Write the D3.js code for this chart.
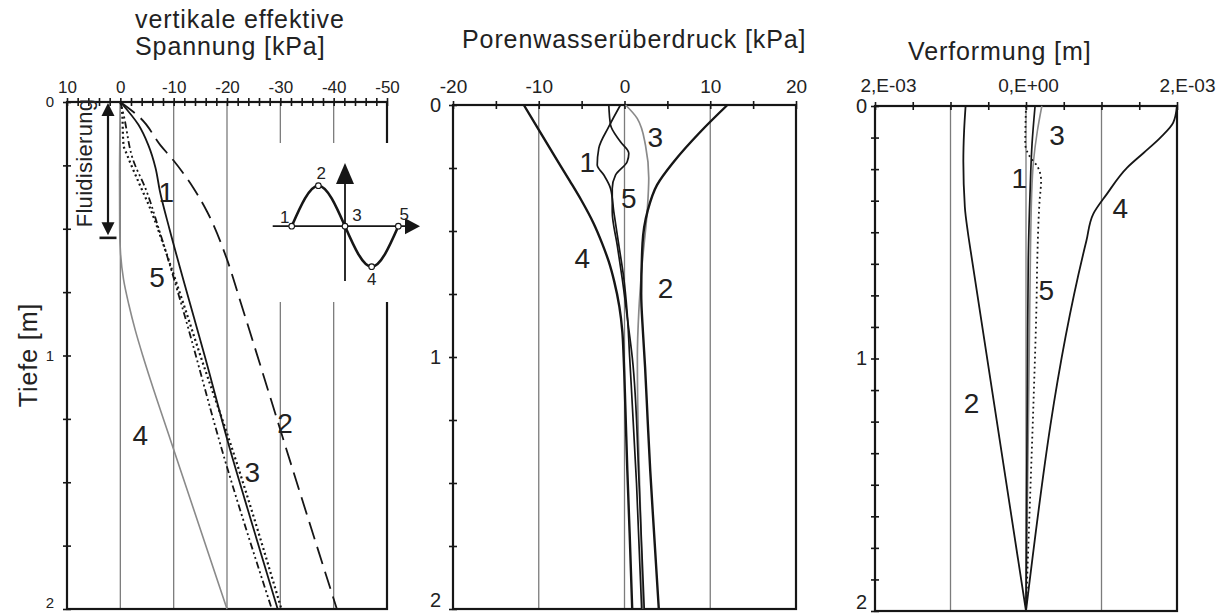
<!DOCTYPE html>
<html>
<head>
<meta charset="utf-8">
<script src="https://cdn.jsdelivr.net/npm/d3@7"></script>
<style>
  body { margin: 0; background: #fff; }
  svg { display: block; }
  text { font-family: "Liberation Sans", Arial, sans-serif; fill: #222; }
</style>
</head>
<body>
<svg id="chart" width="1229" height="613"></svg>
<script>
// ---------- data: [depth (m), value] ----------
// vertical effective stress [kPa]
const stress1 = [[0,0],[0.09,-3.4],[0.17,-5.25],[0.26,-6.6],[0.35,-7.4],[0.5,-9.2],[0.7,-11.8],[1.0,-15.8],[1.373,-20.6],[1.65,-24.5],[2,-29.5]];
const stress2 = [[0,0],[0.063,-3.75],[0.17,-7.5],[0.229,-9.9],[0.339,-13.7],[0.434,-16.3],[0.615,-19.9],[0.773,-22.3],[1.069,-26.7],[1.3,-30.1],[1.542,-33.7],[2,-40.6]];
const stress3 = [[0,0],[0.03,-0.3],[0.17,-0.6],[0.21,-1.3],[0.315,-3.4],[0.42,-5.6],[0.552,-7.9],[0.7,-10.3],[0.8,-11.9],[1.0,-15.0],[1.345,-20.6],[2,-30.2]];
const stress4 = [[0,0],[0.3,0.15],[0.5,0.12],[0.6,-0.05],[0.7,-0.6],[0.8,-1.6],[0.9,-2.8],[1.0,-4.2],[1.1,-5.7],[1.333,-9.4],[2,-20]];
const stress5 = [[0,0],[0.05,-0.6],[0.235,-2.5],[0.34,-4.7],[0.5,-7.2],[0.78,-11.2],[1.44,-20.0],[2,-28.4]];

// excess pore water pressure [kPa]
const pore1 = [[0,-0.47],[0.086,-1.83],[0.172,-3.0],[0.238,-3.18],[0.278,-2.41],[0.331,-1.63],[0.423,-1.25],[0.556,-0.66],[0.688,-0.08],[0.82,0.3],[1.0,0.6],[1.5,1.4],[2,2.0]];
const pore2 = [[0,12.0],[0.106,8.86],[0.225,5.75],[0.317,3.8],[0.42,2.7],[0.55,2.1],[0.75,1.95],[0.9,2.15],[1.04,2.4],[1.25,2.7],[1.45,3.0],[1.7,3.45],[2,4.0]];
const pore3 = [[0,0.12],[0.053,1.48],[0.16,2.45],[0.29,2.83],[0.42,2.65],[0.63,2.06],[0.82,1.67],[1.0,1.5],[1.3,1.6],[1.6,1.85],[2,2.15]];
const pore4 = [[0,-11.74],[0.11,-9.8],[0.2,-8.2],[0.3,-6.4],[0.38,-5.0],[0.47,-3.6],[0.55,-2.6],[0.62,-1.85],[0.7,-1.2],[0.8,-0.6],[0.9,-0.25],[1.0,-0.1],[1.2,0.1],[1.45,0.33],[1.7,0.6],[2,0.9]];
const pore5 = [[0,-1.83],[0.079,-1.63],[0.146,-0.47],[0.192,0.5],[0.225,0.31],[0.278,-1.05],[0.331,-1.43],[0.423,-1.43],[0.556,-0.85],[0.688,-0.27],[0.85,0.35],[1.0,0.9],[1.5,1.7],[2,2.3]];

// deformation [mm]
const def1 = [[0,0.12],[0.15,0.08],[0.35,0.053],[0.61,0.03],[1.0,0.02],[2,0]];
const def2 = [[0,-0.8],[0.1,-0.82],[0.22,-0.83],[0.4,-0.81],[0.5,-0.77],[0.58,-0.73],[2,0]];
const def3 = [[0,0.21],[0.1,0.15],[0.217,0.1],[0.35,0.075],[0.8,0.05],[1.3,0.03],[2,0]];
const def4 = [[0,2.0],[0.066,1.95],[0.125,1.78],[0.185,1.56],[0.244,1.34],[0.349,1.07],[0.428,0.89],[0.534,0.8],[2,0]];
const def5 = [[0,0],[0.15,-0.01],[0.2,0.05],[0.244,0.16],[0.296,0.2],[0.375,0.18],[0.6,0.15],[0.77,0.14],[1.166,0.1],[1.56,0.053],[2,0]];

// axis ticks and labels
const stressTickValues = [10,0,-10,-20,-30,-40,-50];
const stressTickLabels = ["10","0","-10","-20","-30","-40","-50"];
const stressGrid = [0,-10,-20,-30,-40];
const poreTickValues = [-20,-10,0,10,20];
const poreTickLabels = ["-20","-10","0","10","20"];
const poreGrid = [-10,0,10];
const defTickValues = [-2,0,2];
const defTickLabels = ["2,E-03","0,E+00","2,E-03"];
const defGrid = [-1,0,1];
const depthTickValues = [0,1,2];
const depthTickLabels = ["0","1","2"];

// curve label positions [label, depth, value]
const stressLabels = [["1",0.355,-8.6],["5",0.69,-6.9],["4",1.314,-3.75],["3",1.46,-24.75],["2",1.266,-30.9]];
const poreLabels = [["1",0.225,-4.35],["5",0.37,0.5],["3",0.126,3.6],["4",0.608,-4.93],["2",0.727,4.78]];
const defLabels = [["3",0.115,0.41],["1",0.286,-0.09],["4",0.405,1.25],["5",0.729,0.27],["2",1.177,-0.72]];

// loading cycle sketch: [phase, amplitude]
const cyclePoints = [[0,0],[0.25,1],[0.5,0],[0.75,-1],[1,0]];
const cycleLabels = ["1","2","3","4","5"];

const svg = d3.select("#chart");
const BLACK = "#161616", GREY = "#8a8a8a";

function panel(cfg) {
  const x = d3.scaleLinear().domain(cfg.xDomain).range([cfg.x0, cfg.x1]);
  const y = d3.scaleLinear().domain([0, 2]).range([cfg.y0, cfg.y1]);
  const g = svg.append("g");

  // vertical grid lines
  g.selectAll("line.grid").data(cfg.grid).join("line")
    .attr("x1", d => x(d)).attr("x2", d => x(d))
    .attr("y1", y(0)).attr("y2", y(2))
    .attr("stroke", "#7c7c7c").attr("stroke-width", 1.3);

  // frame
  g.append("rect")
    .attr("x", cfg.x0).attr("y", cfg.y0)
    .attr("width", cfg.x1 - cfg.x0).attr("height", cfg.y1 - cfg.y0)
    .attr("fill", "none").attr("stroke", BLACK).attr("stroke-width", 2.2);

  // top minor ticks (crossing the axis)
  const tTop = g.append("g").attr("transform", `translate(0,${cfg.y0})`)
    .call(d3.axisTop(x).tickValues(cfg.topMinor).tickSize(4).tickFormat(""));
  tTop.select(".domain").remove();
  tTop.selectAll(".tick line").attr("y1", 4).attr("y2", -4)
    .attr("stroke", BLACK).attr("stroke-width", 1.6);

  // top labels
  const lTop = g.append("g").attr("transform", `translate(0,${cfg.y0})`)
    .call(d3.axisTop(x).tickValues(cfg.tickValues).tickSize(0).tickPadding(cfg.topPad)
      .tickFormat((d, i) => cfg.tickLabels[i]));
  lTop.select(".domain").remove();
  lTop.selectAll(".tick text")
    .attr("font-size", cfg.topFont).attr("font-family", null).attr("fill", "#222")
    .attr("dx", (d, i) => cfg.labelDx ? cfg.labelDx[i] : 0);

  // left minor ticks
  const tLeft = g.append("g").attr("transform", `translate(${cfg.x0},0)`)
    .call(d3.axisLeft(y).tickValues(cfg.leftMinor).tickSize(4).tickFormat(""));
  tLeft.select(".domain").remove();
  tLeft.selectAll(".tick line").attr("x1", 4).attr("x2", -4)
    .attr("stroke", BLACK).attr("stroke-width", 1.6);

  // depth labels (the lowest one is lifted to stay inside the canvas)
  const lLeft = g.append("g").attr("transform", `translate(${cfg.x0},0)`)
    .call(d3.axisLeft(y).tickValues(depthTickValues).tickSize(0).tickPadding(cfg.leftPad)
      .tickFormat((d, i) => depthTickLabels[i]));
  lLeft.select(".domain").remove();
  lLeft.selectAll(".tick text")
    .attr("font-size", cfg.leftFont).attr("font-family", null).attr("fill", "#222")
    .attr("dy", (d, i) => i === depthTickValues.length - 1 ? "-0.12em" : "0.32em");

  // curves
  const line = d3.line().x(d => x(d[1])).y(d => y(d[0])).curve(d3.curveMonotoneY);
  cfg.series.forEach(s => {
    g.append("path").datum(s.data)
      .attr("d", line)
      .attr("fill", "none")
      .attr("stroke", s.color)
      .attr("stroke-width", s.width)
      .attr("stroke-dasharray", s.dash || null);
  });

  return { x, y, g };
}

// ---------- left panel: vertical effective stress ----------
const P1 = panel({
  x0: 67, x1: 387, y0: 102, y1: 609,
  xDomain: [10, -50],
  grid: stressGrid,
  topMinor: d3.range(10, -50.1, -2),
  tickValues: stressTickValues, tickLabels: stressTickLabels,
  topPad: 9, topFont: 17,
  leftMinor: d3.range(0, 2.001, 0.25), leftPad: 13, leftFont: 15,
  series: [
    { data: stress4, color: GREY, width: 1.6 },
    { data: stress2, color: BLACK, width: 1.8, dash: "18,8" },
    { data: stress5, color: BLACK, width: 1.8, dash: "7,3,2,3,2,3" },
    { data: stress3, color: BLACK, width: 2.2, dash: "2,3" },
    { data: stress1, color: BLACK, width: 1.8 }
  ]
});

// ---------- middle panel: excess pore water pressure ----------
const P2 = panel({
  x0: 453, x1: 796, y0: 105, y1: 609,
  xDomain: [-20, 20],
  grid: poreGrid,
  topMinor: d3.range(-20, 20.1, 5),
  tickValues: poreTickValues, tickLabels: poreTickLabels,
  topPad: 12, topFont: 19,
  leftMinor: d3.range(0, 2.001, 0.25), leftPad: 12, leftFont: 20,
  series: [
    { data: pore3, color: GREY, width: 1.7 },
    { data: pore1, color: BLACK, width: 1.7 },
    { data: pore5, color: BLACK, width: 1.7 },
    { data: pore4, color: BLACK, width: 2.4 },
    { data: pore2, color: BLACK, width: 2.4 }
  ]
});

// ---------- right panel: deformation ----------
const P3 = panel({
  x0: 875, x1: 1177, y0: 106, y1: 611,
  xDomain: [-2, 2],
  grid: defGrid,
  topMinor: d3.range(-2, 2.01, 0.5),
  tickValues: defTickValues, tickLabels: defTickLabels, labelDx: [13, 2, 10],
  topPad: 14, topFont: 19,
  leftMinor: d3.range(0, 2.001, 0.125), leftPad: 8, leftFont: 20,
  series: [
    { data: def3, color: GREY, width: 1.6 },
    { data: def1, color: BLACK, width: 1.7 },
    { data: def5, color: BLACK, width: 1.8, dash: "1.8,3.2" },
    { data: def2, color: BLACK, width: 1.8 },
    { data: def4, color: BLACK, width: 1.8 }
  ]
});

// curve numbers
function curveLabels(P, labels) {
  P.g.selectAll("text.cl").data(labels).join("text")
    .attr("x", d => P.x(d[2])).attr("y", d => P.y(d[1]))
    .attr("dy", "0.36em").attr("text-anchor", "middle")
    .attr("font-size", 28).text(d => d[0]);
}
curveLabels(P1, stressLabels);
curveLabels(P2, poreLabels);
curveLabels(P3, defLabels);

// ---------- titles ----------
const titleStyle = sel => sel.attr("font-size", 25).attr("letter-spacing", 0.9);
svg.append("text").attr("x", 135).attr("y", 28).call(titleStyle).text("vertikale effektive");
svg.append("text").attr("x", 135).attr("y", 55).call(titleStyle).text("Spannung [kPa]");
svg.append("text").attr("x", 462).attr("y", 48).call(titleStyle).text("Porenwasserüberdruck [kPa]");
svg.append("text").attr("x", 908).attr("y", 60).call(titleStyle).text("Verformung [m]");
svg.append("text").attr("transform", "translate(37,355) rotate(-90)")
  .attr("text-anchor", "middle").call(titleStyle).text("Tiefe [m]");

// ---------- fluidisation zone marker ----------
const fx = 108, fTop = P1.y(0), fBot = P1.y(0.53);
svg.append("line").attr("x1", fx).attr("x2", fx).attr("y1", fTop + 6).attr("y2", fBot - 6)
  .attr("stroke", BLACK).attr("stroke-width", 2.2);
svg.append("path").attr("d", `M${fx},${fTop + 1}L${fx - 6.5},${fTop + 14}L${fx + 6.5},${fTop + 14}Z`).attr("fill", BLACK);
svg.append("path").attr("d", `M${fx},${fBot - 1}L${fx - 6.5},${fBot - 14}L${fx + 6.5},${fBot - 14}Z`).attr("fill", BLACK);
svg.append("line").attr("x1", fx - 8.5).attr("x2", fx + 8.5).attr("y1", fBot + 1.5).attr("y2", fBot + 1.5)
  .attr("stroke", BLACK).attr("stroke-width", 2.6);
svg.append("text").attr("transform", "translate(92,163) rotate(-90)")
  .attr("text-anchor", "middle").attr("font-size", 22).attr("letter-spacing", 0.3)
  .text("Fluidisierung");

// ---------- loading cycle sketch ----------
svg.append("rect").attr("x", 262).attr("y", 143).attr("width", 164).attr("height", 159).attr("fill", "#fff");
const cx = d3.scaleLinear().domain([0, 1]).range([291.7, 398.3]);
const cy = d3.scaleLinear().domain([-1, 1]).range([266.7, 185.7]);
const axY = cy(0), axX = cx(0.5);
svg.append("line").attr("x1", 272.7).attr("x2", 406).attr("y1", axY).attr("y2", axY)
  .attr("stroke", BLACK).attr("stroke-width", 1.8);
svg.append("path").attr("d", `M420,${axY}L405,${axY - 8}L405,${axY + 8}Z`).attr("fill", BLACK);
svg.append("line").attr("x1", axX).attr("x2", axX).attr("y1", 281).attr("y2", 182)
  .attr("stroke", BLACK).attr("stroke-width", 1.8);
svg.append("path").attr("d", `M${axX},163L${axX - 9},184L${axX + 9},184Z`).attr("fill", BLACK);
svg.append("path").datum(cyclePoints)
  .attr("d", d3.line().x(d => cx(d[0])).y(d => cy(d[1])).curve(d3.curveNatural))
  .attr("fill", "none").attr("stroke", BLACK).attr("stroke-width", 2.6);
svg.selectAll("circle.cp").data(cyclePoints).join("circle")
  .attr("cx", d => cx(d[0])).attr("cy", d => cy(d[1])).attr("r", 2.8)
  .attr("fill", "#fff").attr("stroke", BLACK).attr("stroke-width", 1.1);
const cycleLabelOffsets = [[-7, -9], [3, -13], [12, -11], [0, 12], [6, -12]];
svg.selectAll("text.cpl").data(cyclePoints).join("text")
  .attr("x", (d, i) => cx(d[0]) + cycleLabelOffsets[i][0])
  .attr("y", (d, i) => cy(d[1]) + cycleLabelOffsets[i][1])
  .attr("dy", "0.36em").attr("text-anchor", "middle").attr("font-size", 17)
  .text((d, i) => cycleLabels[i]);
</script>
</body>
</html>
